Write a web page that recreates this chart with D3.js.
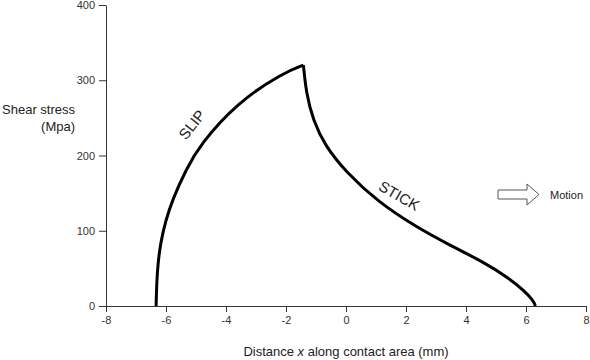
<!DOCTYPE html>
<html><head><meta charset="utf-8">
<script src="https://cdn.jsdelivr.net/npm/d3@7"></script>
<style>body{margin:0;background:#fff}svg{display:block}text{font-family:Arial,"Liberation Sans",sans-serif;fill:#222}</style>
</head><body><svg id="c" width="590" height="360"></svg>
<script>
const xTicks = [-8,-6,-4,-2,0,2,4,6,8];
const yTicks = [0,100,200,300,400];
const slipX = [-6.33,-6.31,-6.27,-6.18,-6.02,-5.78,-5.32,-4.87,-3.64,-2.09,-1.42];
const slipY = [0,30,56,84,112,142,182,214,270,310,320];
const stickX = [-1.42,-1.33,-1.1,-0.7,0,1.08,2.3,3.5,4.6,5.4,5.95,6.2,6.29,6.31];
const stickY = [320,284,247,213,178,138,106,80,58,38,20,9,3,0];
const labels = {x:"Distance x along contact area (mm)", y:["Shear stress","(Mpa)"], slip:"SLIP", stick:"STICK", motion:"Motion"};

const svg = d3.select("#c");
const x = d3.scaleLinear().domain([-8,8]).range([106,586]);
const y = d3.scaleLinear().domain([0,400]).range([306,5]);
const fmt = d => String(d);

const xa = svg.append("g").attr("transform","translate(0,306)")
  .call(d3.axisBottom(x).tickValues(xTicks).tickFormat(fmt).tickSize(6).tickPadding(4).tickSizeOuter(0));
const ya = svg.append("g").attr("transform","translate(106,0)")
  .call(d3.axisLeft(y).tickValues(yTicks).tickFormat(fmt).tickSize(7).tickPadding(4).tickSizeOuter(0));
[xa,ya].forEach(a=>{
  a.select(".domain").attr("stroke","#333");
  a.selectAll("line").attr("stroke","#333");
  a.selectAll("text").style("font-size","11px").style("fill","#333").attr("font-family","Arial, Liberation Sans, sans-serif");
});

const line = d3.line().x(d=>x(d[0])).y(d=>y(d[1])).curve(d3.curveBasis);
svg.append("path").datum(slipX.map((v,i)=>[v,slipY[i]]))
  .attr("d",line).attr("fill","none").attr("stroke","#000").attr("stroke-width",3);
svg.append("path").datum(stickX.map((v,i)=>[v,stickY[i]]))
  .attr("d",line).attr("fill","none").attr("stroke","#000").attr("stroke-width",3);

svg.append("text").attr("transform",`translate(${x(-5.1)},${y(240)}) rotate(-52)`)
  .attr("text-anchor","middle").attr("dominant-baseline","middle").style("font-size","15px").text(labels.slip);
svg.append("text").attr("transform",`translate(${x(1.75)},${y(145)}) rotate(30)`)
  .attr("text-anchor","middle").attr("dominant-baseline","middle").style("font-size","15px").text(labels.stick);

// motion arrow
const ax0=498, ay=194.5;
svg.append("path").attr("d",`M${ax0},${ay-4.5}L527,${ay-4.5}L527,${ay-10.5}L539,${ay}L527,${ay+10.5}L527,${ay+4.5}L${ax0},${ay+4.5}Z`)
  .attr("fill","#fff").attr("stroke","#555").attr("stroke-width",1);
svg.append("text").attr("x",550).attr("y",ay+4).style("font-size","11px").text(labels.motion);

const yl = svg.append("text").attr("text-anchor","end").style("font-size","13px");
yl.append("tspan").attr("x",75).attr("y",114).text(labels.y[0]);
yl.append("tspan").attr("x",75).attr("y",131).text(labels.y[1]);

const xl = svg.append("text").attr("x",346).attr("y",356).attr("text-anchor","middle").style("font-size","13px");
xl.append("tspan").text("Distance ");
xl.append("tspan").style("font-style","italic").text("x");
xl.append("tspan").text(" along contact area (mm)");
</script></body></html>
